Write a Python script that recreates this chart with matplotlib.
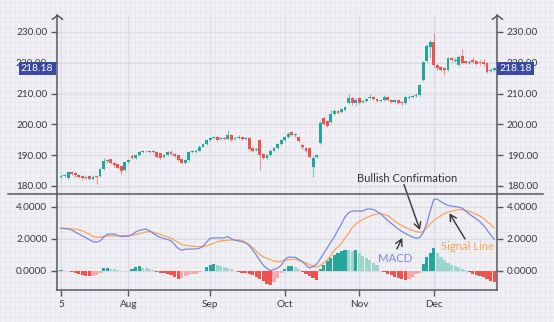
import numpy as np
import pandas as pd
import matplotlib
matplotlib.use("Agg")
import matplotlib.pyplot as plt
from matplotlib.path import Path
from matplotlib.lines import Line2D
import matplotlib.transforms as mtransforms

plt.rcParams['font.family'] = ['Lato', 'DejaVu Sans']

# --- данные: свечи (open / high / low / close) ---
opens = [183.0, 183.2, 182.6, 184.6, 184.2, 183.6, 183.4, 182.6, 183.2, 182.2,
         183.4, 183.2, 185.6, 188.0, 188.6, 187.5, 187.0, 186.4, 185.2, 187.9,
         189.8, 189.0, 190.0, 191.0, 191.4, 191.2, 191.0, 191.0, 190.6, 189.3,
         190.2, 191.0, 190.4, 189.9, 188.9, 187.6, 188.5, 191.0, 191.0, 191.5,
         192.8, 193.6, 195.0, 195.6, 196.0, 195.1, 195.6, 195.3, 196.5, 195.1,
         195.5, 195.9, 195.3, 195.6, 192.2, 191.6, 194.9, 190.4, 189.2, 190.0,
         191.5, 192.3, 193.5, 195.0, 195.8, 197.5, 196.5, 195.8, 193.4, 192.4,
         192.3, 186.2, 189.3, 194.0, 202.2, 201.2, 200.8, 203.5, 204.5, 204.0,
         204.8, 207.0, 208.5, 207.0, 208.6, 207.2, 207.6, 208.6, 209.0, 208.3,
         207.6, 207.8, 209.0, 207.8, 207.3, 207.8, 207.2, 206.9, 208.6, 209.0,
         209.2, 209.6, 214.4, 220.6, 225.0, 226.8, 219.2, 218.6, 218.4, 217.7,
         221.6, 220.6, 219.4, 222.3, 220.6, 220.0, 220.8, 220.6, 220.4, 220.3,
         220.0, 217.2, 217.6]
highs = [183.8, 184.0, 185.0, 185.0, 184.5, 183.9, 183.6, 183.3, 183.4, 183.5,
         183.6, 185.8, 189.2, 188.9, 188.9, 187.8, 187.2, 186.6, 188.2, 188.9,
         190.3, 190.4, 191.4, 191.8, 191.7, 191.5, 191.6, 191.2, 190.8, 190.4,
         191.4, 191.8, 190.7, 190.1, 189.1, 188.9, 191.4, 191.6, 191.9, 193.2,
         194.0, 195.4, 195.9, 196.3, 196.3, 195.9, 196.0, 198.2, 196.8, 195.9,
         196.6, 196.2, 196.0, 195.9, 192.5, 192.4, 195.2, 190.7, 190.4, 191.9,
         192.7, 193.9, 195.4, 196.2, 197.6, 197.9, 197.2, 196.1, 193.7, 192.7,
         192.5, 189.6, 190.4, 201.0, 202.6, 201.5, 204.8, 205.0, 204.8, 205.4,
         206.0, 209.8, 208.8, 208.5, 208.9, 207.8, 208.7, 210.0, 209.3, 208.6,
         208.1, 209.4, 209.3, 208.1, 208.2, 208.1, 207.5, 209.2, 209.4, 209.6,
         210.2, 213.2, 220.6, 226.2, 227.4, 229.7, 219.6, 219.0, 218.7, 221.9,
         222.0, 221.4, 222.4, 224.5, 221.0, 220.8, 222.0, 221.0, 220.8, 221.2,
         220.3, 218.2, 218.6]
lows = [182.6, 182.8, 182.4, 183.6, 183.0, 182.6, 182.0, 182.2, 181.8, 181.9,
        180.6, 183.0, 185.3, 187.6, 187.0, 186.3, 185.4, 184.0, 184.9, 187.5,
        188.6, 188.7, 189.8, 190.7, 190.9, 190.6, 190.8, 189.2, 188.9, 189.0,
        190.0, 190.0, 189.4, 188.2, 187.0, 187.2, 188.2, 190.6, 190.8, 191.3,
        192.5, 193.3, 194.7, 195.3, 194.7, 194.8, 194.9, 195.0, 194.6, 194.8,
        195.2, 195.0, 195.0, 191.2, 191.0, 191.2, 185.2, 188.8, 188.9, 189.8,
        191.2, 192.0, 193.2, 194.7, 195.5, 196.2, 196.0, 194.2, 192.1, 191.1,
        189.2, 182.9, 189.0, 193.6, 199.7, 199.2, 200.5, 203.2, 203.4, 203.6,
        204.5, 206.7, 206.4, 205.9, 206.7, 206.8, 207.3, 208.3, 207.9, 207.2,
        207.3, 207.5, 207.5, 206.9, 207.0, 206.7, 206.2, 206.6, 208.3, 208.7,
        208.9, 209.3, 214.0, 220.2, 222.0, 218.6, 217.8, 217.4, 216.0, 217.4,
        220.4, 220.2, 219.1, 219.7, 219.6, 219.7, 219.8, 219.2, 219.4, 219.1,
        216.6, 216.9, 217.3]
closes = [183.2, 183.5, 184.5, 184.0, 183.5, 183.0, 182.5, 182.8, 182.3, 183.0,
          182.8, 185.5, 188.2, 188.5, 187.3, 186.8, 185.8, 185.0, 187.8, 188.5,
          189.0, 190.0, 191.0, 191.3, 191.2, 191.0, 191.3, 189.5, 189.2, 190.0,
          191.0, 190.3, 189.8, 188.5, 187.5, 188.5, 191.0, 191.2, 191.5, 192.8,
          193.5, 195.0, 195.5, 195.8, 195.0, 195.5, 195.2, 196.5, 195.0, 195.5,
          195.8, 195.3, 195.6, 192.0, 191.5, 192.0, 190.2, 189.2, 190.0, 191.5,
          192.3, 193.5, 195.0, 195.8, 197.0, 196.5, 196.8, 194.5, 192.5, 191.5,
          189.5, 189.0, 190.0, 200.5, 200.0, 199.5, 203.5, 204.5, 203.8, 205.0,
          205.5, 208.5, 206.8, 208.0, 207.0, 207.3, 208.3, 209.0, 208.2, 207.5,
          207.8, 209.0, 207.8, 207.2, 207.8, 207.0, 206.8, 208.8, 209.0, 209.2,
          209.5, 212.8, 220.2, 225.6, 226.8, 219.2, 218.4, 217.8, 217.5, 221.5,
          220.8, 221.0, 222.0, 220.0, 220.0, 220.3, 220.2, 219.5, 219.8, 219.5,
          217.0, 217.8, 218.18]

# --- данные: MACD, сигнальная линия, гистограмма ---
macd = [2.66, 2.65, 2.63, 2.56, 2.43, 2.31, 2.20, 2.08, 1.95, 1.83,
        1.80, 1.87, 2.10, 2.29, 2.31, 2.31, 2.22, 2.15, 2.16, 2.19,
        2.27, 2.43, 2.54, 2.58, 2.62, 2.50, 2.34, 2.20, 2.09, 2.03,
        1.97, 1.88, 1.65, 1.40, 1.30, 1.36, 1.37, 1.37, 1.37, 1.42,
        1.55, 1.80, 2.04, 2.06, 2.08, 2.05, 2.07, 2.15, 2.00, 1.92,
        1.88, 1.82, 1.76, 1.60, 1.30, 1.00, 0.66, 0.35, 0.15, 0.02,
        0.10, 0.18, 0.35, 0.70, 0.86, 0.86, 0.85, 0.72, 0.57, 0.37,
        0.18, 0.28, 0.42, 0.75, 1.10, 1.45, 1.80, 2.15, 2.55, 2.95,
        3.38, 3.64, 3.75, 3.76, 3.74, 3.75, 3.86, 3.88, 3.84, 3.72,
        3.58, 3.37, 3.16, 2.98, 2.79, 2.62, 2.47, 2.35, 2.23, 2.12,
        2.05, 2.08, 2.40, 2.95, 3.75, 4.48, 4.49, 4.33, 4.20, 4.10,
        4.05, 4.02, 4.00, 3.92, 3.75, 3.55, 3.40, 3.25, 3.08, 2.85,
        2.56, 2.25, 1.98]
signal = [2.67, 2.66, 2.65, 2.63, 2.61, 2.58, 2.50, 2.40, 2.28, 2.17,
          2.10, 2.12, 2.16, 2.19, 2.20, 2.20, 2.20, 2.20, 2.20, 2.20,
          2.22, 2.27, 2.33, 2.39, 2.44, 2.46, 2.42, 2.35, 2.28, 2.20,
          2.14, 2.04, 1.92, 1.78, 1.66, 1.60, 1.57, 1.55, 1.53, 1.52,
          1.52, 1.57, 1.65, 1.73, 1.82, 1.88, 1.90, 1.92, 1.93, 1.94,
          1.94, 1.90, 1.80, 1.62, 1.45, 1.25, 1.02, 0.88, 0.78, 0.70,
          0.62, 0.57, 0.60, 0.66, 0.70, 0.73, 0.72, 0.66, 0.58, 0.50,
          0.40, 0.30, 0.24, 0.32, 0.50, 0.70, 0.98, 1.30, 1.50, 1.75,
          2.05, 2.35, 2.70, 2.92, 3.08, 3.22, 3.33, 3.43, 3.50, 3.56,
          3.56, 3.53, 3.47, 3.30, 3.12, 2.95, 2.84, 2.72, 2.62, 2.53,
          2.46, 2.42, 2.45, 2.68, 2.95, 3.15, 3.30, 3.45, 3.58, 3.67,
          3.74, 3.80, 3.84, 3.82, 3.78, 3.72, 3.63, 3.53, 3.44, 3.28,
          3.10, 2.90, 2.71]
hist = [0.03, 0.00, 0.00, -0.05, -0.12, -0.20, -0.27, -0.32, -0.34, -0.31,
        -0.25, -0.14, 0.17, 0.20, 0.15, 0.10, 0.06, -0.02, 0.00, 0.02,
        0.10, 0.22, 0.28, 0.20, 0.18, 0.12, 0.05, -0.05, -0.10, -0.15,
        -0.20, -0.26, -0.35, -0.52, -0.45, -0.32, -0.27, -0.22, -0.16, -0.08,
        0.00, 0.22, 0.38, 0.44, 0.35, 0.30, 0.26, 0.20, 0.10, 0.00,
        -0.05, -0.10, -0.15, -0.20, -0.27, -0.36, -0.50, -0.62, -0.82, -0.85,
        -0.68, -0.45, -0.15, 0.12, 0.30, 0.30, 0.22, 0.10, -0.06, -0.18,
        -0.32, -0.45, -0.55, 0.15, 0.38, 0.60, 0.80, 1.00, 1.15, 1.25,
        1.32, 1.30, 1.22, 1.28, 1.10, 0.95, 0.80, 0.66, 0.50, 0.35,
        -0.03, -0.08, -0.17, -0.27, -0.36, -0.44, -0.52, -0.55, -0.50, -0.40,
        -0.22, -0.10, 0.45, 0.85, 1.10, 1.45, 1.15, 0.90, 0.68, 0.52,
        0.38, 0.30, 0.22, 0.12, 0.05, -0.08, -0.16, -0.24, -0.32, -0.40,
        -0.50, -0.60, -0.72]

month_labels = ['5', 'Aug', 'Sep', 'Oct', 'Nov', 'Dec']
price_ticks = [180, 190, 200, 210, 220, 230]
macd_ticks = [0, 2, 4]
last_price = 218.18

# торговые дни (без выходных и праздников)
dates = pd.bdate_range('2022-07-05', periods=len(closes), freq='C',
                       holidays=['2022-09-05', '2022-11-24'])
x = np.arange(len(closes))
month_pos = [0] + [i for i in range(1, len(dates)) if dates[i].month != dates[i - 1].month]

green = '#26a69a'
red = '#ef5350'
axis_col = '#58585c'
text_col = '#3c3c40'

fig = plt.figure(figsize=(5.54, 3.22), dpi=100)
fig.patch.set_facecolor('#f1f0f5')

# мелкая сетка на фоне всей картинки
bg = fig.add_axes([0, 0, 1, 1], zorder=-5)
bg.set_xlim(0, 554)
bg.set_ylim(0, 322)
bg.set_xticks(np.arange(0, 555, 5))
bg.set_yticks(np.arange(0, 323, 5))
bg.grid(True, color='#e5e4eb', lw=0.5)
bg.set_facecolor('#f1f0f5')
bg.tick_params(length=0, labelbottom=False, labelleft=False)
for s in bg.spines.values():
    s.set_visible(False)

ax1 = fig.add_axes([57 / 554, 1 - 194 / 322, 440 / 554, 179 / 322])
ax2 = fig.add_axes([57 / 554, 1 - 290 / 322, 440 / 554, 96 / 322], sharex=ax1)

for ax in (ax1, ax2):
    ax.set_facecolor('none')
    ax.spines['top'].set_visible(False)
    for side in ('left', 'right', 'bottom'):
        ax.spines[side].set_color(axis_col)
        ax.spines[side].set_linewidth(1.1)
    ax.set_xticks(month_pos)
    ax.grid(True, color='#dcdbe3', lw=0.8)
    ax.set_axisbelow(True)
    ax.tick_params(axis='y', which='both', left=True, right=True, labelleft=True,
                   labelright=True, direction='out', length=4, width=1,
                   color=axis_col, pad=3, labelsize=7.2, labelcolor=text_col)
ax1.spines['bottom'].set_visible(False)

# --- свечи ---
o = np.array(opens)
c = np.array(closes)
cols = [green if cc >= oo else red for oo, cc in zip(o, c)]
ax1.vlines(x, lows, highs, colors=cols, lw=0.8, alpha=0.6)
bottoms = np.minimum(o, c)
heights = np.maximum(np.abs(c - o), 0.25)
ax1.bar(x, heights, bottom=bottoms, width=0.8, color=cols, lw=0)

ax1.set_ylim(177.4, 235.5)
ax1.set_xlim(-1.13, 122.8)
ax1.set_yticks(price_ticks)
ax1.set_yticklabels([f'{p:.2f}' for p in price_ticks])
ax1.tick_params(axis='x', bottom=False, labelbottom=False)

# плашки с последней ценой (закрывают подпись 220.00, как в оригинале)
for xa, ha in ((-0.008, 'right'), (1.006, 'left')):
    tr = mtransforms.blended_transform_factory(ax1.transAxes, ax1.transData)
    ax1.text(xa, last_price, f'{last_price:.2f}', transform=tr, ha=ha, va='center',
             color='white', fontsize=7.5, zorder=20, clip_on=False,
             bbox=dict(boxstyle='square,pad=0.22', fc='#3949a3', ec='none'))

# --- MACD ---
h = np.array(hist)
hcols = []
for k in range(len(h)):
    prev = h[k - 1] if k > 0 else 0
    if h[k] >= 0:
        hcols.append('#26a69a' if h[k] >= prev else '#9ad6cc')
    else:
        hcols.append('#ef5350' if h[k] <= prev else '#f6a9ad')
ax2.bar(x, h, width=0.9, color=hcols, lw=0)
ax2.plot(x, signal, color='#f7a65a', lw=0.9)
ax2.plot(x, macd, color='#7c88d8', lw=0.9)

ax2.set_ylim(-1.19, 4.81)
ax2.set_yticks(macd_ticks)
ax2.set_yticklabels([f'{v:.4f}' for v in macd_ticks])
ax2.set_xticklabels(month_labels)
ax2.tick_params(axis='x', direction='out', length=4, width=1, color=axis_col,
                labelsize=7.2, labelcolor=text_col, pad=3)

# разделитель панелей
fig.add_artist(Line2D([8 / 554, 543 / 554], [1 - 194 / 322] * 2, color=axis_col, lw=1.1))

# стрелки на концах вертикальных осей
chevron = Path([(-1, -0.75), (0, 0), (1, -0.75)], [Path.MOVETO, Path.LINETO, Path.LINETO])
ax1.plot([0, 1], [1, 1], transform=ax1.transAxes, ls='none', marker=chevron,
         markersize=8, mfc='none', mec=axis_col, mew=1.1, clip_on=False)

# --- подписи и стрелки ---
arrow = dict(arrowstyle='->,head_length=0.45,head_width=0.25', color='#333336', lw=1.0,
             shrinkA=0, shrinkB=0)
ax2.text(97.6, 5.79, 'Bullish Confirmation', ha='center', va='center', fontsize=8,
         color='#333336', clip_on=False)
ax2.annotate('', xy=(101.1, 2.56), xytext=(96.6, 5.4), arrowprops=arrow,
             annotation_clip=False)
ax2.text(94.1, 0.81, 'MACD', ha='center', va='center', fontsize=8.2, color='#7c88d8')
ax2.annotate('', xy=(96.1, 2.06), xytext=(94.6, 1.375), arrowprops=arrow)
ax2.text(114.5, 1.56, 'Signal Line', ha='center', va='center', fontsize=8.2,
         color='#f7a65a')
ax2.annotate('', xy=(109.4, 3.6), xytext=(113.8, 2.0), arrowprops=arrow)

fig.savefig('out.png', dpi=100, facecolor=fig.get_facecolor())
